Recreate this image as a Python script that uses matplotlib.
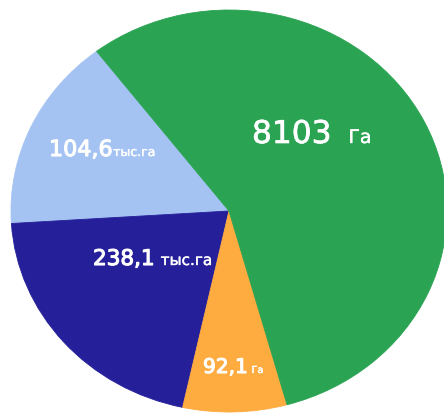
import matplotlib
matplotlib.use("Agg")
import matplotlib.pyplot as plt
import matplotlib.patheffects as pe

# Data (wedge shares, in % of the circle)
categories = ["light_blue", "navy", "orange", "green"]
shares = [15.6, 20.6, 7.7, 56.1]
value_labels = ["104,6", "238,1", "92,1", "8103"]
unit_labels = ["тыс.га", "тыс.га", "Га", "Га"]
colors = ["#A4C3F3", "#25209A", "#FEAB40", "#2AA353"]

W, H = 444, 413
fig = plt.figure(figsize=(W / 100, H / 100), dpi=100)
ax = fig.add_axes([0, 0, 1, 1])

wedges, _ = ax.pie(shares, colors=colors, startangle=127.4, counterclock=True,
                   wedgeprops=dict(linewidth=0.6, antialiased=True))
for w, c in zip(wedges, colors):
    w.set_edgecolor(c)

# elliptical look, centre at (229, 211) px, radii 218 x 201 px
cx, cy, rx, ry = 229, 211, 218, 201
ax.set_aspect("auto")
ax.set_xlim(-cx / rx, (W - cx) / rx)
ax.set_ylim(-(H - cy) / ry, cy / ry)
ax.axis("off")

font = "DejaVu Sans"
# (number left/baseline px, number size, stroke, unit size, gap px)
layout = {
    "green": ((252, 143), 22.5, 0.5, 13.5, 17),
    "light_blue": ((49, 156), 16, 0.8, 9, 0.5),
    "navy": ((93, 265), 15.5, 0.8, 11, 6),
    "orange": ((203, 373), 14.5, 0.8, 7, 3.5),
}
fig.canvas.draw()
renderer = fig.canvas.get_renderer()
for cat, num, unit in zip(categories, value_labels, unit_labels):
    (p1, s1, sw, s2, gap) = layout[cat]
    t = fig.text(p1[0] / W, 1 - p1[1] / H, num, color="white", fontsize=s1,
                 family=font, ha="left", va="baseline",
                 path_effects=[pe.withStroke(linewidth=sw, foreground="white")])
    ext = t.get_window_extent(renderer=renderer)
    fig.text((ext.x1 + gap) / W, 1 - p1[1] / H, unit, color="white",
             fontsize=s2, family=font, ha="left", va="baseline",
             path_effects=[pe.withStroke(linewidth=0.3, foreground="white")])

fig.savefig("out.png", dpi=100, facecolor="white")
